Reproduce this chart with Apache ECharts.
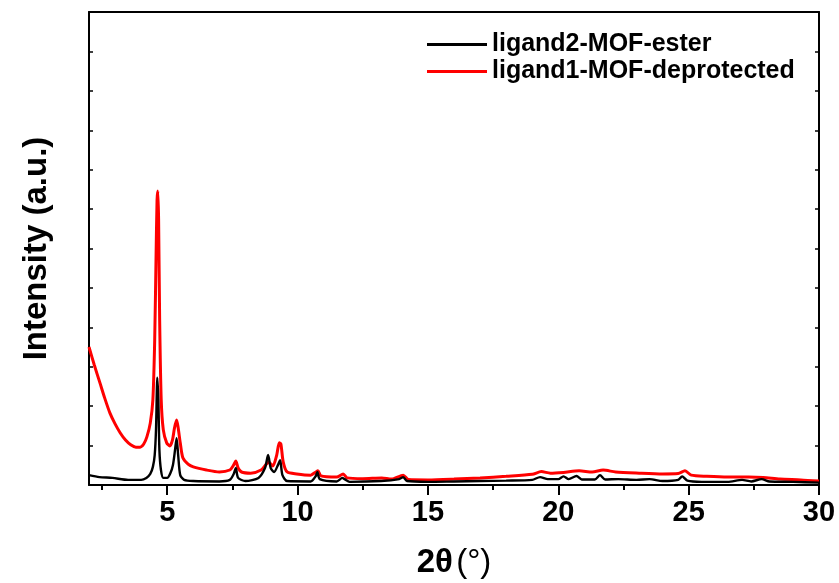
<!DOCTYPE html>
<html>
<head>
<meta charset="utf-8">
<script src="https://cdn.jsdelivr.net/npm/echarts@6/dist/echarts.min.js"></script>
<style>html,body{margin:0;padding:0;background:#fff}#c{width:839px;height:583px}</style>
</head>
<body>
<div id="c"></div>
<script>
const seriesNames = ['ligand2-MOF-ester', 'ligand1-MOF-deprotected'];
const xTickLabels = [5, 10, 15, 20, 25, 30];
const xMinorTicks = [2.5, 7.5, 12.5, 17.5, 22.5, 27.5];

const xBlack = [2.0,2.4,2.9,3.5,4.0,4.2,4.35,4.45,4.52,4.57,4.62,4.66,4.70,4.76,4.85,5.0,5.12,5.22,5.30,5.36,5.42,5.50,5.65,6.0,7.0,7.4,7.55,7.63,7.72,8.0,8.5,8.75,8.87,8.97,9.1,9.25,9.33,9.42,9.6,10.5,10.7,10.76,10.85,11.5,11.72,11.8,12.0,13.2,13.9,14.05,14.2,15.0,16.0,17.0,18.0,19.0,19.3,19.6,20.0,20.2,20.4,20.7,20.9,21.4,21.6,21.8,22.3,23.0,23.5,24.0,24.6,24.75,24.95,25.5,26.5,27.05,27.4,27.8,28.1,29.0,30.0];
const yBlack = [0.25,0.20,0.18,0.13,0.13,0.18,0.28,0.46,0.76,1.40,2.72,2.16,0.89,0.38,0.18,0.18,0.30,0.51,0.89,1.19,0.76,0.25,0.13,0.10,0.09,0.13,0.28,0.43,0.18,0.10,0.18,0.43,0.76,0.43,0.33,0.51,0.63,0.25,0.10,0.09,0.23,0.33,0.15,0.09,0.18,0.15,0.08,0.10,0.15,0.20,0.10,0.08,0.09,0.10,0.11,0.13,0.20,0.15,0.15,0.22,0.15,0.23,0.14,0.14,0.25,0.14,0.15,0.13,0.15,0.10,0.13,0.22,0.11,0.08,0.08,0.13,0.09,0.15,0.09,0.08,0.06];

const xRed = [2.0,2.2,2.42,2.6,2.8,3.0,3.2,3.4,3.6,3.8,3.96,4.1,4.22,4.35,4.45,4.52,4.57,4.61,4.64,4.67,4.71,4.77,4.85,4.98,5.1,5.2,5.28,5.36,5.42,5.5,5.6,5.8,6.0,6.5,7.0,7.4,7.55,7.63,7.72,7.85,8.2,8.6,8.8,8.9,9.05,9.2,9.3,9.36,9.45,9.6,9.97,10.5,10.7,10.78,10.9,11.5,11.75,11.9,12.5,13.23,13.6,14.05,14.25,15.0,16.0,17.0,18.0,19.0,19.35,19.7,20.2,20.8,21.3,21.72,22.2,23.1,24.0,24.6,24.86,25.1,25.7,26.5,27.3,27.86,28.5,29.3,30.0];
const yRed = [3.50,3.05,2.59,2.21,1.83,1.55,1.32,1.14,1.02,0.96,0.96,1.04,1.22,1.57,2.16,3.68,5.71,7.23,7.46,6.73,4.19,2.16,1.40,1.07,0.99,1.14,1.45,1.65,1.45,1.07,0.69,0.53,0.46,0.38,0.33,0.38,0.51,0.61,0.43,0.33,0.30,0.38,0.53,0.58,0.48,0.76,1.07,1.04,0.58,0.33,0.28,0.25,0.33,0.36,0.23,0.20,0.28,0.18,0.16,0.18,0.15,0.25,0.14,0.13,0.15,0.18,0.22,0.27,0.34,0.30,0.32,0.36,0.33,0.38,0.33,0.30,0.28,0.29,0.36,0.25,0.22,0.20,0.20,0.19,0.15,0.13,0.10];

const zip = (xs, ys) => xs.map((x, i) => [x, ys[i]]);
const FONT = '"Liberation Sans", Arial, sans-serif';

const chart = echarts.init(document.getElementById('c'), null, {renderer: 'canvas'});
chart.setOption({
  animation: false,
  backgroundColor: '#fff',
  grid: {left: 89, right: 20, top: 12, bottom: 98, outerBoundsMode: 'none', containLabel: false},
  legend: {
    orient: 'vertical', left: 422, top: 27, itemGap: 2,
    itemWidth: 60, itemHeight: 3, icon: 'rect',
    data: seriesNames,
    textStyle: {fontFamily: FONT, fontWeight: 'bold', fontSize: 25, color: '#000', lineHeight: 25}
  },
  xAxis: [{
    type: 'value', min: 2, max: 30, position: 'bottom',
    name: '{b|2θ} {n|(°)}', nameLocation: 'middle', nameGap: 61,
    nameTextStyle: {rich: {
      b: {fontFamily: FONT, fontWeight: 'bold', fontSize: 33, color: '#000'},
      n: {fontFamily: FONT, fontWeight: 'normal', fontSize: 33, color: '#000'}
    }},
    axisLine: {onZero: false, lineStyle: {color: '#000', width: 2}},
    axisTick: {customValues: xTickLabels, length: 10, lineStyle: {color: '#000', width: 2}},
    axisLabel: {customValues: xTickLabels, margin: 13, fontFamily: FONT, fontWeight: 'bold', fontSize: 29, color: '#000'},
    splitLine: {show: false}
  }, {
    type: 'value', min: 2, max: 30, position: 'bottom',
    axisLine: {show: false},
    axisTick: {customValues: xMinorTicks, length: 5, lineStyle: {color: '#000', width: 2}},
    axisLabel: {show: false},
    splitLine: {show: false}
  }, {
    type: 'value', min: 2, max: 30, position: 'top',
    axisLine: {onZero: false, lineStyle: {color: '#000', width: 2}},
    axisTick: {show: false},
    axisLabel: {show: false},
    splitLine: {show: false}
  }],
  yAxis: [{
    type: 'value', min: 0, max: 12, interval: 1, position: 'left',
    name: 'Intensity (a.u.)', nameLocation: 'middle', nameGap: 36,
    nameTextStyle: {fontFamily: FONT, fontWeight: 'bold', fontSize: 33, color: '#000'},
    axisLine: {show: true, onZero: false, lineStyle: {color: '#000', width: 2}},
    axisTick: {show: true, inside: true, length: 4, lineStyle: {color: '#000', width: 1.5}},
    axisLabel: {show: false},
    splitLine: {show: false}
  }, {
    type: 'value', min: 0, max: 12, interval: 1, position: 'right',
    axisLine: {show: true, onZero: false, lineStyle: {color: '#000', width: 2}},
    axisTick: {show: true, inside: true, length: 4, lineStyle: {color: '#000', width: 1.5}},
    axisLabel: {show: false},
    splitLine: {show: false}
  }],
  series: [{
    name: seriesNames[1], type: 'line', data: zip(xRed, yRed),
    showSymbol: false, smooth: 0.25,
    lineStyle: {color: '#ff0000', width: 3}, itemStyle: {color: '#ff0000'}, z: 2
  }, {
    name: seriesNames[0], type: 'line', data: zip(xBlack, yBlack),
    showSymbol: false, smooth: 0.25,
    lineStyle: {color: '#000000', width: 2.4}, itemStyle: {color: '#000000'}, z: 3
  }]
});
</script>
</body>
</html>
